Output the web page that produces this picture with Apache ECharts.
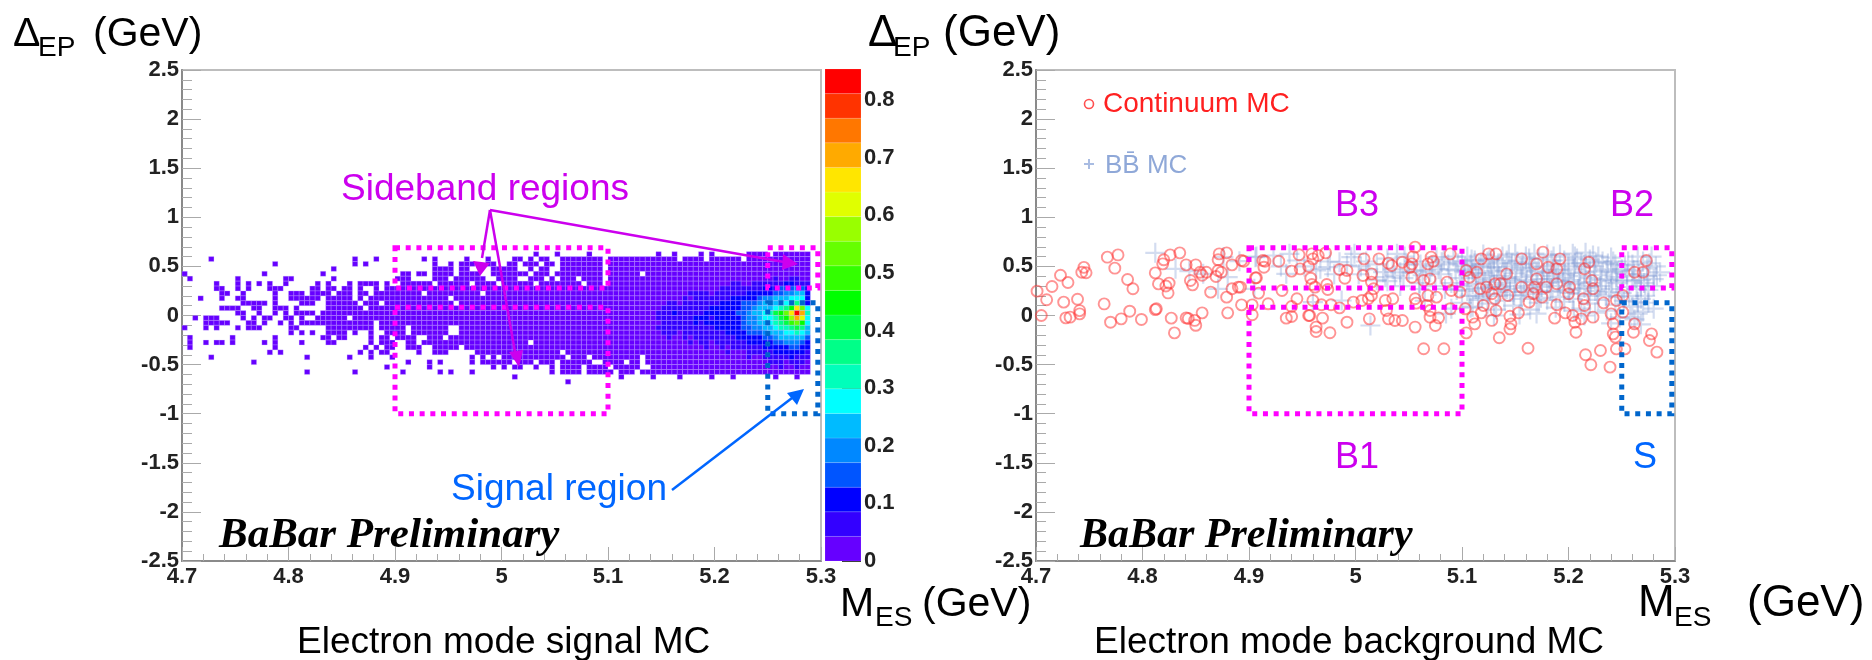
<!DOCTYPE html>
<html>
<head>
<meta charset="utf-8">
<title>BaBar signal and background MC</title>
<script src="https://cdn.jsdelivr.net/npm/echarts@6/dist/echarts.min.js"></script>
<style>
  html, body { margin: 0; padding: 0; background: #fff; }
  #chart { width: 1872px; height: 660px; }
</style>
</head>
<body>
<div id="chart"></div>
<script>
// signal histogram: filled bins per row, column numbers from the left edge (bin 0.005 x 0.05)
const histRowLows = [0.6, 0.55, 0.5, 0.45, 0.4, 0.35, 0.3, 0.25, 0.2, 0.15, 0.1, 0.05, 0, -0.05, -0.1, -0.15, -0.2, -0.25, -0.3, -0.35, -0.4, -0.45, -0.5, -0.55, -0.6, -0.65, -0.7];
const histRowBins = [
  '66 70 76 89 92 97 99 106-109 111-117',
  '5 32 36 45 47 53 57 62-63 65 67-68 71-78 80-92 94-97 99-104 106-117',
  '17 32 34 47 50 52-54 57-58 61-62 64-66 68-69 71-78 80-117',
  '28 47-50 52-53 58-62 65 67-68 71-78 80-117',
  '0 15 26 41-42 44-45 47-50 52-55 58-64 66-68 70-78 80-85 87-117',
  '1 10 19-20 28 40-42 47-49 51-56 59-62 65-67 69 71-73 75-78 80-117',
  '6 10 12 14 16 19 25 27 31 33-36 38 41-46 48-53 55-58 60-65 67-74 76-78 80-117',
  '6-7 10 12 16-18 24-25 27-28 30-31 33 36 38-117',
  '7-8 11 17 20-22 24-27 29-31 33-34 36-44 46-55 57-117',
  '3 7 10-11 17 20-25 27-31 33 35-49 51-117',
  '11-15 17 22-24 27-32 34-36 38-50 52-117',
  '7-10 13-14 17-19 21 27-33 35-117',
  '10-11 14 17 19 21-24 26-117',
  '2 4-6 11 13 15-16 19-20 22 25-30 32-117',
  '4-8 12-13 15 18 20 22-35 37-117',
  '0 4 6 10 12-14 20-21 27-35 37-41 43-49 52-117',
  '20 22 24 27-30 32 35 38-41 43-49 52-117',
  '1 9 17 26-27 29-30 35 37-38 40-43 46-48 50-117',
  '1 4 6-7 9 15 17 22 27-28 35 37-39 42-43 45-64 66-117',
  '1 17 34 36 38-39 42-44 47-51 53-117',
  '16 18 33 35 37-38 44 47-49 55-70 72-117',
  '5 23 31 35 39 54 56 58 60-71 73-75 77-85 87-117',
  '13 42 46 48 54 56-61 63-65 67-69 71-76 79-82 84-85 87-117',
  '38 46 58 60 62-63 66 69 71-74 76-79 81-85 88-117',
  '23 32 41 48 50 54 69 71-74 76-80 82-84 86-117',
  '62 82 88 93 99 103 111 115',
  '72'
];
// palette level of the bins from column 88 to 117, base level elsewhere
const hotRowLows = [0.35, 0.3, 0.25, 0.2, 0.15, 0.1, 0.05, 0, -0.05, -0.1, -0.15, -0.2, -0.25, -0.3, -0.35, -0.4, -0.45, -0.5, -0.55];
const hotRowLevels = [
  '000000000000000000000001001100',
  '000000000000000110011111122111',
  '000000000000011111111222333432',
  '000000011110111111222223344552',
  '000000101111111222223445556662',
  '000110111111122223334555667862',
  '00111111111222222334555678afc6',
  '011121111122222233455679acfjg7',
  '0111111122212222234456679adge6',
  '00111111212222222344556789bca6',
  '011111111111222223344556778985',
  '001110111111112222333455566765',
  '000100101111111122222334555553',
  '000000010110111111222223344432',
  '000000000010010111111222223322',
  '000000000000001000111112222221',
  '000000000000000000100111112111',
  '000000000000000000000011101110',
  '000000000000000000000000100100'
];

// colour scale
const paletteMax = 0.854;
const paletteColors = ['#6600ff', '#3300ff', '#0000ff', '#0055ff', '#0088ff', '#00bbff', '#00ffff', '#00ffbb', '#00ff88', '#00ff44',
  '#00ff00', '#33ff00', '#66ff00', '#99ff00', '#e0ff00', '#ffe600', '#ffaa00', '#ff7700', '#ff3300', '#ff0000'];
const paletteTicks = [0, 0.1, 0.2, 0.3, 0.4, 0.5, 0.6, 0.7, 0.8];

// background MC points
const continuumPoints = [
  [4.701,.248],[4.705,0],[4.71,.16],[4.715,.295],[4.723,.41],[4.726,.136],[4.73,.336],[4.728,-.024],[4.732,-.017],[4.739,.166],
  [4.741,.05],[4.741,.017],[4.743,.44],[4.747,.435],[4.745,.49],[4.764,.118],[4.767,.594],[4.777,.617],[4.774,.482],[4.786,.366],
  [4.791,.272],[4.77,-.068],[4.78,-.034],[4.788,.044],[4.799,-.04],[4.812,.434],[4.815,.322],[4.819,.526],[4.82,.567],[4.826,.617],
  [4.835,.638],[4.822,.3],[4.825,.33],[4.824,.23],[4.813,.068],[4.812,.06],[4.827,-.027],[4.83,-.177],[4.841,-.024],[4.843,-.03],
  [4.85,-.1],[4.856,.027],[4.849,-.05],[4.841,.516],[4.85,.516],[4.845,.356],[4.847,.312],[4.854,.44],[4.856,.41],[4.86,.44],
  [4.869,.397],[4.871,.458],[4.874,.44],[4.864,.238],[4.872,.628],[4.879,.638],[4.871,.567],[4.884,.516],[4.893,.56],[4.879,.187],
  [4.884,.272],[4.89,.289],[4.88,.027],[4.893,.108],[4.903,.108],[4.903,.007],[4.906,.383],
  [4.895,.553],[4.913,.56],[4.915,.553],[4.914,.492],[4.928,.553],[4.947,.618],[4.959,.628],[4.965,.611],[4.96,.577],[4.972,.638],
  [5.008,.577],[5.022,.577],[4.94,.452],[4.948,.475],[4.956,.499],[4.985,.468],[4.992,.458],[4.99,.38],[4.958,.38],[4.959,.316],
  [4.962,.289],[4.973,.316],[4.974,.265],[5.007,.407],[5.015,.424],[5.015,.34],[5.017,.272],[5.031,.533],[5.034,.509],[5.044,.543],
  [5.056,.696],[5.054,.6],[5.053,.526],[5.051,.49],[5.071,.594],[5.073,.553],[5.068,.526],[5.089,.628],[5.064,.357],[5.053,.39],
  [5.07,.373],[5.086,.34],[5.09,.255],[5.098,.238],[4.892,.289],[4.907,.384],[4.909,.228],[4.931,.254],[4.918,.119],[4.945,.17],
  [4.94,.092],[4.96,.153],[4.968,.109],[4.977,.109],[4.985,.078],[4.998,.136],[5.006,.153],[5.015,.204],[5.012,.17],[5.028,.153],
  [5.035,.17],[5.056,.17],[5.068,.204],[5.076,.187],[5.057,.126],[5.067,.102],[5.07,.051],[5.089,.068],[4.935,-.027],[4.94,-.01],
  [4.956,0],[4.957,0],[4.969,-.027],[4.963,-.118],[4.963,-.163],[4.976,-.176],[4.992,-.068],[5.013,-.034],[5.029,.051],[5.031,-.034],
  [5.037,-.051],[5.044,-.051],[5.056,-.118],[5.075,-.102],[5.078,-.024],[5.07,-.017],[5.064,-.339],[5.083,-.339],
  [5.125,.628],[5.132,.628],[5.118,.577],[5.104,.458],[5.114,.441],[5.107,.39],[5.117,.272],[5.123,.289],[5.131,.323],[5.136,.323],
  [5.142,.424],[5.143,.204],[5.131,.17],[5.128,.221],[5.103,.068],[5.12,.102],[5.118,.027],[5.11,-.017],[5.112,-.085],[5.128,-.05],
  [5.132,.05],[5.104,-.177],[5.135,-.227],[5.145,-.007],[5.153,.027],[5.146,-.085],[5.145,-.136],[5.162,-.333],[5.163,.136],[5.175,.187],
  [5.167,.221],[5.156,.577],[5.17,.526],[5.176,.645],[5.192,.577],[5.181,.492],[5.189,.475],[5.17,.373],[5.156,.289],[5.168,.289],
  [5.179,.289],[5.189,.323],[5.201,.289],[5.2,.221],[5.214,.17],[5.189,.109],[5.197,.027],[5.187,-.027],[5.204,0],[5.206,-.068],
  [5.207,-.17],[5.212,-.034],[5.223,-.017],[5.215,.102],[5.233,.129],[5.219,.543],[5.215,.475],[5.223,.272],[5.222,.356],[5.23,-.356],
  [5.216,-.4],[5.221,-.502],[5.239,-.526],[5.245,-.34],[5.253,-.34],[5.242,-.085],[5.242,-.187],[5.244,-.22],[5.251,.034],[5.251,.204],
  [5.245,.153],[5.24,.017],[5.262,.441],[5.27,.441],[5.273,.56],[5.261,-.17],[5.278,-.187],[5.276,-.254],[5.283,-.373],[5.262,-.085]
];
const bbPoints = [
  [4.812,.638],[4.831,.475],[4.844,.451],[4.857,.424],[4.88,.39],[4.871,.272],[4.876,.594],[4.891,.553],[4.907,.6],[4.905,.272],
  [4.906,.594],[4.923,.611],[4.938,.628],[4.935,.424],[4.967,.475],[4.974,.492],[4.963,.458],[4.985,.543],[4.999,.628],[4.996,.594],
  [5.028,.39],[5.026,.441],[5.039,.628],[5.037,.407],[5.057,.458],[5.076,.594],[5.081,.543],[5.061,.52],[5.066,.46],[5.08,.42],
  [5.094,.46],[5.087,.52],[5.083,.57],[4.96,.136],[4.987,.153],[5.014,-.102],[5.065,.15],[5.085,.02],[5.09,.07],[5.098,.38],
  [4.952,.5],[4.945,.56],[5.005,.5],[5.012,.47],[5.02,.52],[5.03,.58],[5.046,.6],[5.05,.44],[5.055,.55],[5.045,.38],
  [5.072,.5],[5.078,.47],[5.092,.6],[5.09,.33],[5.075,.3],[5.06,.27],[5.095,.26],[5.042,.3],[5.03,.35],[5.02,.36],
  [5.1,.55],[5.105,.6],[5.108,.52],[5.112,.56],[5.116,.5],[5.12,.62],[5.124,.55],[5.128,.49],[5.13,.58],[5.134,.53],
  [5.138,.6],[5.142,.56],[5.146,.5],[5.15,.63],[5.152,.55],[5.156,.48],[5.16,.6],[5.164,.53],[5.168,.63],[5.172,.58],
  [5.176,.5],[5.18,.62],[5.184,.56],[5.188,.52],[5.192,.62],[5.196,.56],[5.2,.5],[5.204,.63],[5.208,.58],[5.212,.53],
  [5.216,.64],[5.22,.57],[5.224,.5],[5.228,.6],[5.232,.55],[5.236,.47],[5.24,.59],[5.244,.52],[5.102,.45],[5.106,.41],
  [5.11,.47],[5.115,.38],[5.12,.43],[5.125,.36],[5.13,.45],[5.135,.4],[5.14,.46],[5.145,.37],[5.15,.43],[5.155,.39],
  [5.16,.46],[5.165,.41],[5.17,.45],[5.175,.37],[5.18,.44],[5.185,.4],[5.19,.46],[5.195,.38],[5.2,.43],[5.205,.47],
  [5.21,.4],[5.215,.44],[5.22,.38],[5.225,.45],[5.23,.41],[5.235,.37],[5.24,.44],[5.245,.39],[5.25,.47],[5.255,.42],
  [5.1,.3],[5.105,.25],[5.11,.32],[5.115,.2],[5.12,.28],[5.125,.22],[5.13,.31],[5.135,.26],[5.14,.33],[5.145,.24],
  [5.15,.3],[5.155,.2],[5.16,.28],[5.165,.34],[5.17,.22],[5.175,.29],[5.18,.33],[5.185,.24],[5.19,.3],[5.195,.34],
  [5.2,.26],[5.205,.32],[5.21,.22],[5.215,.28],[5.22,.33],[5.225,.25],[5.23,.3],[5.235,.2],[5.24,.27],[5.245,.33],
  [5.25,.23],[5.255,.29],[5.26,.35],[5.1,.13],[5.108,.08],[5.116,.16],[5.124,.12],[5.132,.06],[5.14,.15],[5.148,.1],
  [5.156,.17],[5.164,.06],[5.172,.13],[5.18,.16],[5.188,.08],[5.196,.14],[5.204,.17],[5.212,.07],[5.22,.12],[5.228,.16],
  [5.236,.05],[5.244,.11],[5.252,.15],[5.26,.09],[5.268,.17],[5.154,.01],[5.205,.05],[5.225,.03],[5.248,-.02],[5.265,.02],
  [5.26,.52],[5.265,.6],[5.27,.55],[5.274,.48],[5.278,.6],[5.282,.5],[5.286,.44],[5.262,.4],[5.268,.36],[5.274,.4],
  [5.28,.37],[5.268,.3],[5.275,.26],[5.28,.3],[5.272,.2],[5.265,.14],[5.275,.13],[5.28,.07],[5.27,.04],[5.262,-.04],
  [5.268,-.09],[5.258,-.02],[5.17,.02],[5.13,.0],[5.11,.09],[5.215,.0],[5.24,-.08],
  [5.103,.5],[5.109,.57],[5.113,.43],[5.118,.52],[5.122,.34],[5.127,.41],[5.133,.49],[5.137,.29],[5.141,.38],[5.147,.53],
  [5.151,.35],[5.157,.52],[5.161,.36],[5.166,.49],[5.171,.31],[5.177,.43],[5.182,.37],[5.186,.47],[5.191,.35],[5.197,.42],
  [5.202,.36],[5.206,.53],[5.211,.34],[5.216,.5],[5.221,.3],[5.226,.54],[5.231,.36],[5.237,.53],[5.241,.35],[5.246,.45],
  [5.251,.36],[5.256,.55],[5.261,.46],[5.266,.42],[5.271,.33],[5.276,.53],[5.283,.41],[5.107,.2],[5.113,.27],[5.119,.18],
  [5.126,.29],[5.134,.2],[5.142,.27],[5.149,.21],[5.158,.24],[5.167,.26],[5.174,.18],[5.183,.25],[5.192,.19],[5.201,.23],
  [5.209,.27],[5.218,.2],[5.227,.22],[5.238,.24],[5.247,.19],[5.257,.2],[5.264,.27],[5.126,.57],[5.144,.62],[5.163,.58],
  [5.186,.6],[5.206,.6],[5.223,.61],[5.242,.55],[5.253,.51],[4.976,.55],[4.992,.51],[5.01,.55],[5.035,.47],[5.048,.52],
  [5.063,.41],[5.07,.44],[5.088,.47],[5.096,.53],[4.93,.5],[4.98,.42],[5.003,.42],[5.042,.44],[5.06,.33],[5.084,.27]
];

// dotted regions: x from, x to, y from, y to
const sidebandRegions = [[4.9, 5.1, 0.28, 0.69], [4.9, 5.1, -1, 0.085], [5.25, 5.297, 0.28, 0.69]];
const signalRegion = [[5.25, 5.297, -1, 0.13]];

const tickLabelFont = { fontFamily: 'Liberation Sans', fontWeight: 'bold', fontSize: 22, color: '#222' };

function parseBins(text) {
  const cols = [];
  text.split(' ').forEach(part => {
    const ends = part.split('-').map(Number);
    const last = ends.length > 1 ? ends[1] : ends[0];
    for (let c = ends[0]; c <= last; c++) cols.push(c);
  });
  return cols;
}

const levelChars = '0123456789abcdefghij';
const histData = [];
histRowBins.forEach((row, r) => {
  const low = histRowLows[r];
  const hotIndex = hotRowLows.indexOf(low);
  parseBins(row).forEach(col => {
    let level = 0;
    if (hotIndex >= 0 && col >= 88) {
      level = Math.max(0, levelChars.indexOf(hotRowLevels[hotIndex][col - 88] || '0'));
    }
    histData.push([4.7 + col * 0.005, low, level]);
  });
});

function renderHistBin(params, api) {
  const a = api.coord([api.value(0), api.value(1) + 0.05]);
  const b = api.coord([api.value(0) + 0.005, api.value(1)]);
  return {
    type: 'rect',
    shape: { x: a[0], y: a[1], width: b[0] - a[0], height: b[1] - a[1] },
    style: { fill: paletteColors[api.value(2)], stroke: 'rgba(205,185,255,0.45)', lineWidth: 0.6 }
  };
}

function renderRegion(color) {
  return function (params, api) {
    const a = api.coord([api.value(0), api.value(3)]);
    const b = api.coord([api.value(1), api.value(2)]);
    return {
      type: 'rect',
      shape: { x: a[0], y: a[1], width: b[0] - a[0], height: b[1] - a[1] },
      style: { fill: 'none', stroke: color, lineWidth: 5, lineDash: [5, 5.7] }
    };
  };
}

function renderPaletteBand(params, api) {
  const a = api.coord([0, api.value(1)]);
  const b = api.coord([1, api.value(0)]);
  return {
    type: 'rect',
    shape: { x: a[0], y: a[1], width: b[0] - a[0], height: b[1] - a[1] },
    style: { fill: paletteColors[api.value(2)], stroke: 'rgba(255,255,255,0.25)', lineWidth: 0.5 }
  };
}

function plotXAxis(gridIndex) {
  return {
    type: 'value', gridIndex: gridIndex, min: 4.7, max: 5.3, interval: 0.1,
    axisLine: { onZero: false, lineStyle: { color: '#8a8a8a', width: 2 } },
    axisTick: { inside: true, length: 14, lineStyle: { color: '#aaa', width: 1 } },
    minorTick: { show: true, splitNumber: 5, length: 7, lineStyle: { color: '#aaa', width: 1 } },
    axisLabel: Object.assign({ margin: 5, showMinLabel: true, showMaxLabel: true }, tickLabelFont),
    splitLine: { show: false }
  };
}

function plotYAxis(gridIndex) {
  return {
    type: 'value', gridIndex: gridIndex, min: -2.5, max: 2.5, interval: 0.5,
    axisLine: { onZero: false, lineStyle: { color: '#8a8a8a', width: 2 } },
    axisTick: { inside: true, length: 19, lineStyle: { color: '#aaa', width: 1 } },
    minorTick: { show: true, splitNumber: 5, length: 10, lineStyle: { color: '#aaa', width: 1 } },
    axisLabel: Object.assign({ margin: 3, showMinLabel: true, showMaxLabel: true }, tickLabelFont),
    splitLine: { show: false }
  };
}

// y here is the text baseline; graphic text is placed by its top
function label(text, x, y, size, color, extra) {
  return {
    type: 'text', x: x, y: y - size * 0.8, z: 100, silent: true,
    style: Object.assign({ text: text, fontFamily: 'Liberation Sans', fontSize: size, fill: color }, extra || {})
  };
}

function arrow(points, head, color, width) {
  return [
    { type: 'polyline', z: 99, silent: true, shape: { points: points }, style: { stroke: color, lineWidth: width, fill: 'none' } },
    { type: 'polygon', z: 99, silent: true, shape: { points: head }, style: { fill: color } }
  ];
}

function axisTitle(main, sub, x, subX, unitX, y, size) {
  return [
    label(main, x, y, size, '#000'),
    label(sub, subX, y + 10, 28, '#000'),
    label('(GeV)', unitX, y, size, '#000')
  ];
}

const magenta = '#cc00ee';
const blue = '#0066ff';
const serifItalic = { fontFamily: 'Liberation Serif', fontWeight: 'bold', fontStyle: 'italic' };

const graphics = [].concat(
  axisTitle('Δ', 'EP', 13, 38, 93, 47, 41),
  axisTitle('Δ', 'EP', 868, 893, 943, 47, 44),
  axisTitle('M', 'ES', 840, 875, 922, 617, 41),
  axisTitle('M', 'ES', 1638, 1674, 1747, 617, 44),
  [
    label('Sideband regions', 341, 201, 37, magenta),
    label('Signal region', 451, 501, 37, blue),
    label('BaBar Preliminary', 219, 549, 43, '#000', serifItalic),
    label('BaBar Preliminary', 1080, 549, 42, '#000', serifItalic),
    label('Electron mode signal MC', 297, 654, 37, '#000'),
    label('Electron mode background MC', 1094, 654, 37, '#000'),
    label('Continuum MC', 1103, 113, 28, '#ff2020'),
    label('BB\u0304 MC', 1105, 174, 26, '#8fa8d8'),
    label('B3', 1335, 217, 36, magenta),
    label('B2', 1610, 217, 36, magenta),
    label('B1', 1335, 469, 36, magenta),
    label('S', 1633, 469, 36, blue),
    { type: 'circle', z: 99, silent: true, shape: { cx: 1089, cy: 104, r: 4.5 }, style: { fill: 'none', stroke: '#ff5050', lineWidth: 1.6 } },
    { type: 'polygon', z: 99, silent: true,
      shape: { points: [[1084, 163], [1088, 163], [1088, 159], [1090, 159], [1090, 163], [1094, 163], [1094, 165], [1090, 165], [1090, 169], [1088, 169], [1088, 165], [1084, 165]] },
      style: { fill: '#a9bce2' } }
  ],
  arrow([[490, 210], [482, 258]], [[473, 261], [490, 263], [480, 276]], magenta, 2.5),
  arrow([[490, 210], [515, 352]], [[509, 352], [523, 350], [519, 367]], magenta, 2.5),
  arrow([[490, 210], [784, 262]], [[783, 254], [798, 264], [782, 270]], magenta, 2.5),
  arrow([[672, 490], [792, 398]], [[787, 393], [804, 389], [797, 405]], blue, 2.5)
);

const paletteData = paletteColors.map((c, i) => [i * paletteMax / 20, (i + 1) * paletteMax / 20, i]);

const option = {
  backgroundColor: '#ffffff',
  animation: false,
  grid: [
    { left: 182, top: 70, width: 639, height: 491, show: true, borderColor: '#bdbdbd', borderWidth: 2, backgroundColor: 'transparent' },
    { left: 1036, top: 70, width: 639, height: 491, show: true, borderColor: '#bdbdbd', borderWidth: 2, backgroundColor: 'transparent' },
    { left: 825, top: 69, width: 36, height: 492 }
  ],
  xAxis: [
    plotXAxis(0),
    plotXAxis(1),
    { type: 'value', gridIndex: 2, min: 0, max: 1, show: false }
  ],
  yAxis: [
    plotYAxis(0),
    plotYAxis(1),
    {
      type: 'value', gridIndex: 2, min: 0, max: paletteMax, position: 'right',
      axisLine: { show: false, onZero: false },
      axisTick: { inside: true, length: 19, customValues: paletteTicks, lineStyle: { color: '#333', width: 1 } },
      axisLabel: Object.assign({ margin: 3, customValues: paletteTicks }, tickLabelFont),
      splitLine: { show: false }
    }
  ],
  series: [
    { type: 'custom', name: 'Signal MC', xAxisIndex: 0, yAxisIndex: 0, data: histData, renderItem: renderHistBin, silent: true, z: 2 },
    { type: 'custom', name: 'Sideband', xAxisIndex: 0, yAxisIndex: 0, data: sidebandRegions, renderItem: renderRegion('#ff00ff'), silent: true, z: 4 },
    { type: 'custom', name: 'Signal', xAxisIndex: 0, yAxisIndex: 0, data: signalRegion, renderItem: renderRegion('#0066cc'), silent: true, z: 4 },
    { type: 'custom', name: 'Palette', xAxisIndex: 2, yAxisIndex: 2, data: paletteData, renderItem: renderPaletteBand, silent: true, z: 1 },
    {
      type: 'scatter', name: 'BB MC', xAxisIndex: 1, yAxisIndex: 1, data: bbPoints, silent: true, z: 2,
      symbol: 'path://M4.45 0H5.55V4.45H10V5.55H5.55V10H4.45V5.55H0V4.45H4.45Z', symbolSize: 20,
      itemStyle: { color: 'rgba(125,150,210,0.42)' }
    },
    {
      type: 'scatter', name: 'Continuum MC', xAxisIndex: 1, yAxisIndex: 1, data: continuumPoints, silent: true, z: 3,
      symbol: 'circle', symbolSize: 11,
      itemStyle: { color: 'transparent', borderColor: 'rgba(255,50,50,0.65)', borderWidth: 1.9 }
    },
    { type: 'custom', name: 'Sideband right', xAxisIndex: 1, yAxisIndex: 1, data: sidebandRegions, renderItem: renderRegion('#ff00ff'), silent: true, z: 4 },
    { type: 'custom', name: 'Signal right', xAxisIndex: 1, yAxisIndex: 1, data: signalRegion, renderItem: renderRegion('#0066cc'), silent: true, z: 4 }
  ],
  graphic: { elements: graphics }
};

const myChart = echarts.init(document.getElementById('chart'), null, { renderer: 'canvas' });
myChart.setOption(option);
</script>
</body>
</html>
